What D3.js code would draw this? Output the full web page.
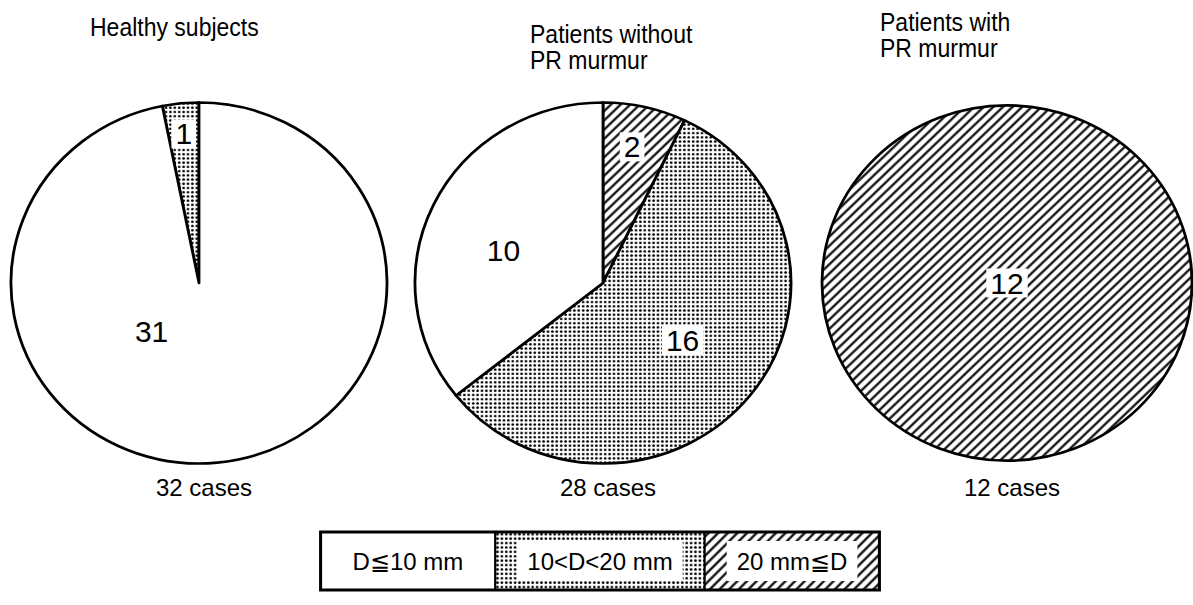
<!DOCTYPE html>
<html>
<head>
<meta charset="utf-8">
<script src="https://cdn.jsdelivr.net/npm/d3@7"></script>
<style>
  body { margin: 0; background: #fff; }
  text { font-family: "Liberation Sans", Arial, sans-serif; fill: #000; }
</style>
</head>
<body>
<svg id="chart" width="1193" height="605"></svg>
<script>
// groups of subjects, one pie each
const groups = [['Healthy subjects'], ['Patients without', 'PR murmur'], ['Patients with', 'PR murmur']];
// diameter classes (legend)
const categories = ['D≦10 mm', '10<D<20 mm', '20 mm≦D'];
// case counts per class, one entry per group
const smallD = [31, 10, 0];
const midD = [1, 16, 0];
const largeD = [0, 2, 12];

const svg = d3.select('#chart');
const defs = svg.append('defs');

// dot screen
const dots = defs.append('pattern').attr('id', 'dots')
  .attr('patternUnits', 'userSpaceOnUse').attr('width', 4.4).attr('height', 4.4);
dots.append('rect').attr('width', 4.4).attr('height', 4.4).attr('fill', '#fff');
dots.append('circle').attr('cx', 2.2).attr('cy', 2.2).attr('r', 1.35).attr('fill', '#000');

// diagonal hatching "/"
const hatch = defs.append('pattern').attr('id', 'hatch')
  .attr('patternUnits', 'userSpaceOnUse').attr('width', 6.8).attr('height', 6.8)
  .attr('patternTransform', 'rotate(45)');
hatch.append('rect').attr('width', 6.8).attr('height', 6.8).attr('fill', '#fff');
hatch.append('line').attr('x1', 3.4).attr('x2', 3.4).attr('y1', 0).attr('y2', 6.8)
  .attr('stroke', '#000').attr('stroke-width', 2.2);

const fills = ['#fff', 'url(#dots)', 'url(#hatch)'];

// per-pie layout
const cx = d3.scalePoint().domain([0, 1, 2]).range([199, 1007]);
const cy = 283;
const radius = [188, 188, 185];
const squash = 0.96;
const startTurn = [-1 / 32, 0, 0];
// label placement: [angle in degrees clockwise from top, distance as fraction of radius]
const labelPlace = [
  [[223, 0.37], [-5.6, 0.83], null],
  [[289, 0.56], [127, 0.53], [11.6, 0.77]],
  [null, null, [0, 0]]
];
const boxed = [false, true, true];
// title layout
const titleX = [90, 530, 880];
const titleY = [36, 43, 31];

groups.forEach((title, i) => {
  const values = [smallD[i], midD[i], largeD[i]];
  const total = d3.sum(values);
  const r = radius[i];

  // slices are laid out clockwise: large, mid, small
  const order = [2, 1, 0];
  const pie = d3.pie().sort(null).value(k => values[k])
    .startAngle(startTurn[i] * 2 * Math.PI)
    .endAngle((startTurn[i] + 1) * 2 * Math.PI);
  const arc = d3.arc().innerRadius(0).outerRadius(r);

  const g = svg.append('g').attr('transform', `translate(${cx(i)},${cy}) scale(1,${squash})`);
  g.selectAll('path.slice')
    .data(pie(order).filter(d => d.value > 0))
    .join('path')
    .attr('class', 'slice')
    .attr('d', arc)
    .attr('fill', d => fills[d.data])
    .attr('stroke', '#000')
    .attr('stroke-width', 2.8)
    .attr('stroke-linejoin', 'round');

  // value labels
  const lg = svg.append('g').attr('transform', `translate(${cx(i)},${cy})`);
  values.forEach((v, k) => {
    if (!v || !labelPlace[i][k]) return;
    const [ang, fr] = labelPlace[i][k];
    const a = ang * Math.PI / 180;
    const x = Math.sin(a) * fr * r;
    const y = -Math.cos(a) * fr * r * squash;
    const t = lg.append('text')
      .attr('x', x).attr('y', y)
      .attr('text-anchor', 'middle')
      .attr('dominant-baseline', 'central')
      .style('font-size', '30px')
      .text(v);
    if (boxed[k]) {
      const b = t.node().getBBox();
      lg.insert('rect', 'text')
        .attr('x', b.x - 4).attr('y', b.y + 2)
        .attr('width', b.width + 8).attr('height', b.height - 4)
        .attr('fill', '#fff');
    }
  });

  // total under the pie
  svg.append('text')
    .attr('x', cx(i) + 5).attr('y', 496)
    .attr('text-anchor', 'middle')
    .style('font-size', '24px')
    .text(`${total} cases`);

  // group title, slightly condensed
  svg.append('g')
    .attr('transform', `translate(${titleX[i]},${titleY[i]}) scale(0.92,1)`)
    .append('text')
    .style('font-size', '25px')
    .selectAll('tspan').data(title).join('tspan')
    .attr('x', 0).attr('y', (d, j) => j * 26)
    .text(d => d);
});

// legend
const legend = svg.append('g').attr('transform', 'translate(0,532)');
const cellH = 58;
const pad = 32;
const widths = categories.map(c => {
  const t = legend.append('text').style('font-size', '24px').text(c);
  const w = t.node().getComputedTextLength();
  t.remove();
  return w + pad * 2;
});
const totalW = d3.sum(widths);
let x0 = 600 - totalW / 2;
categories.forEach((c, k) => {
  const cell = legend.append('g').attr('transform', `translate(${x0},0)`);
  cell.append('rect').attr('width', widths[k]).attr('height', cellH)
    .attr('fill', fills[k]).attr('stroke', '#000').attr('stroke-width', 2);
  if (k > 0) {
    cell.append('rect')
      .attr('x', pad - 10).attr('y', 9)
      .attr('width', widths[k] - 2 * pad + 20).attr('height', cellH - 18)
      .attr('fill', '#fff');
  }
  cell.append('text')
    .attr('x', widths[k] / 2).attr('y', cellH / 2)
    .attr('text-anchor', 'middle').attr('dominant-baseline', 'central')
    .style('font-size', '24px')
    .text(c);
  x0 += widths[k];
});
legend.append('rect')
  .attr('x', 600 - totalW / 2).attr('width', totalW).attr('height', cellH)
  .attr('fill', 'none').attr('stroke', '#000').attr('stroke-width', 3);
</script>
</body>
</html>
